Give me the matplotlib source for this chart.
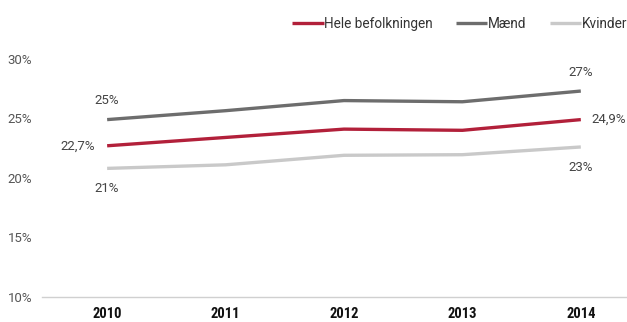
import matplotlib.pyplot as plt

plt.rcParams['font.family'] = ['Roboto', 'DejaVu Sans']

years = ['2010', '2011', '2012', '2013', '2014']
hele = [22.7, 23.4, 24.1, 24.0, 24.9]
maend = [24.9, 25.65, 26.5, 26.4, 27.3]
kvinder = [20.8, 21.1, 21.9, 21.95, 22.6]
yticks = [10, 15, 20, 25, 30]

red = '#b2203a'
dark = '#6d6d6d'
light = '#c9c9c9'

fig = plt.figure(figsize=(6.27, 3.22), dpi=100)
ax = fig.add_axes([0.067, 0.078, 0.933, 0.739])

x = range(len(years))
ax.plot(x, hele, color=red, lw=2.4, label='Hele befolkningen', solid_capstyle='butt')
ax.plot(x, maend, color=dark, lw=2.4, label='Mænd', solid_capstyle='butt')
ax.plot(x, kvinder, color=light, lw=2.4, label='Kvinder', solid_capstyle='butt')

ax.set_ylim(10, 30)
ax.set_xlim(-0.55, 4.39)
ax.set_yticks(yticks)
ax.set_yticklabels([f'{v}%' for v in yticks], fontsize=9.5, color='#555555')
ax.set_xticks(list(x))
ax.set_xticklabels(years, fontsize=10.5, fontweight='bold', color='#111111',
                   family=['Roboto Condensed', 'Roboto'])
ax.tick_params(length=0)
ax.tick_params(axis='y', pad=7)
ax.tick_params(axis='x', pad=7)
for s in ['top', 'right', 'left']:
    ax.spines[s].set_visible(False)
ax.spines['bottom'].set_color('#d0d0d0')
ax.spines['bottom'].set_linewidth(1)

lab = dict(fontsize=9.5, color='#444444')


def pct(v, d=0):
    return f'{v:.{d}f}%'.replace('.', ',')


# first and last year labels
ax.annotate(pct(maend[0]), (0, maend[0]), xytext=(0, 9), textcoords='offset points', ha='center', va='bottom', **lab)
ax.annotate(pct(hele[0], 1), (0, hele[0]), xytext=(-9, 0), textcoords='offset points', ha='right', va='center', **lab)
ax.annotate(pct(kvinder[0]), (0, kvinder[0]), xytext=(0, -10), textcoords='offset points', ha='center', va='top', **lab)
ax.annotate(pct(maend[4]), (4, maend[4]), xytext=(0, 9), textcoords='offset points', ha='center', va='bottom', **lab)
ax.annotate(pct(hele[4], 1), (4, hele[4]), xytext=(8, 0), textcoords='offset points', ha='left', va='center', **lab)
ax.annotate(pct(kvinder[4]), (4, kvinder[4]), xytext=(0, -10), textcoords='offset points', ha='center', va='top', **lab)

fig.legend(loc='upper right', bbox_to_anchor=(1.02, 0.985), ncol=3, frameon=False,
           fontsize=9.8, handlelength=2.3, handletextpad=0.05, columnspacing=1.7,
           labelcolor='#333333')

fig.savefig('out.png', dpi=100)
